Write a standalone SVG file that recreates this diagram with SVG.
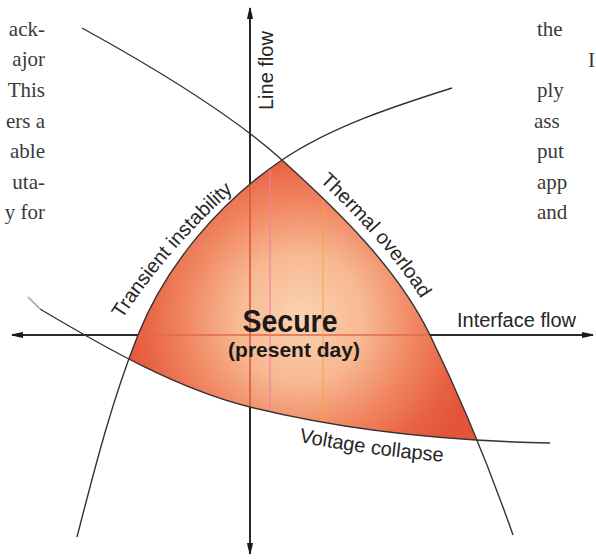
<svg xmlns="http://www.w3.org/2000/svg" width="596" height="559" viewBox="0 0 596 559">
<style>
.ax{fill:none;stroke:#2a2a2a;stroke-width:2}
.cv{fill:none;stroke:#333;stroke-width:1.4}
.lbl{font-family:"Liberation Sans",Arial,sans-serif;font-size:20px;fill:#262626}
.big{font-family:"Liberation Sans",Arial,sans-serif;font-weight:bold;fill:#1a1a1a}
.body{font-family:"Liberation Serif","Times New Roman",serif;font-size:21px;fill:#3a3a3a}
</style>
<defs>
<marker id="arr" viewBox="0 0 12 8" refX="11" refY="4" markerUnits="userSpaceOnUse" markerWidth="12" markerHeight="8" orient="auto-start-reverse">
<path d="M0,1 Q6,2 12,4 Q6,6 0,7 Z" fill="#1a1a1a"/>
</marker>
<radialGradient id="secGrad" gradientUnits="userSpaceOnUse" cx="300" cy="318" r="185">
<stop offset="0" stop-color="#fbd3b3"/>
<stop offset="0.35" stop-color="#f7b891"/>
<stop offset="0.62" stop-color="#f08762"/>
<stop offset="0.85" stop-color="#e86245"/>
<stop offset="1" stop-color="#e2553b"/>
</radialGradient>
<clipPath id="cT"><path d="M60,620 L77,537 C94.5,469 112,400 138,335 C165.8,265.4 219.7,202 282,160 C331.8,126.4 395,106 452,88 L620,40 L620,620 Z"/></clipPath>
<clipPath id="cTh"><path d="M82,28 C143.3,61.7 230.2,113.1 282,160 C337.5,210.3 397,267.5 430,335 C460.8,398 489.9,469.2 513,535 L540,620 L-20,620 L-20,-20 Z"/></clipPath>
<clipPath id="cV"><path d="M40,309 C104.5,347.3 177.3,389 250,407 C347,431 450,441 550,443 L620,444 L620,-20 L-20,-20 L-20,285 Z"/></clipPath>
<path id="tpTrans" d="M121,321 Q170,245 242,183"/>
<path id="tpTherm" d="M288.7,152.6 C344.2,202.9 406,263.1 439,330.6"/>
<path id="tpVolt" d="M250,431 C347,455 450,465 550,467"/>
</defs>

<g id="page-text" class="body">
<text x="45" y="36" text-anchor="end">ack-</text>
<text x="45" y="66" text-anchor="end">ajor</text>
<text x="45" y="97" text-anchor="end">This</text>
<text x="45" y="128" text-anchor="end">ers a</text>
<text x="45" y="158" text-anchor="end">able</text>
<text x="45" y="189" text-anchor="end">uta-</text>
<text x="45" y="219" text-anchor="end">y for</text>
<text x="537" y="36">the</text>
<text x="588" y="67">I</text>
<text x="537" y="97">ply</text>
<text x="534" y="128">ass</text>
<text x="537" y="158">put</text>
<text x="537" y="189">app</text>
<text x="537" y="219">and</text>
</g>

<g id="connectors">
<line id="axis-line-flow" class="ax" x1="250" y1="554" x2="250" y2="8" marker-start="url(#arr)" marker-end="url(#arr)"/>
<line id="axis-interface-flow" class="ax" x1="12" y1="335" x2="593" y2="335" marker-start="url(#arr)" marker-end="url(#arr)"/>
</g>

<g id="region">
<g clip-path="url(#cT)"><g clip-path="url(#cTh)"><g clip-path="url(#cV)">
<rect x="90" y="140" width="430" height="320" fill="url(#secGrad)"/>
<line x1="250" y1="150" x2="250" y2="420" stroke="#d8583f" stroke-width="1.6"/>
<line x1="100" y1="335" x2="500" y2="335" stroke="#e0684c" stroke-width="1.4"/>
<line x1="270" y1="150" x2="270" y2="420" stroke="#f07fa5" stroke-width="1.6" opacity="0.7"/>
<line x1="323" y1="190" x2="323" y2="430" stroke="#f5a23c" stroke-width="1.3" opacity="0.7"/>
</g></g></g>
</g>

<g id="curves">
<path id="curve-transient" class="cv" d="M77,537 C94.5,469 112,400 138,335 C165.8,265.4 219.7,202 282,160 C331.8,126.4 395,106 452,88"/>
<path id="curve-thermal" class="cv" d="M82,28 C143.3,61.7 230.2,113.1 282,160 C337.5,210.3 397,267.5 430,335 C460.8,398 489.9,469.2 513,535"/>
<path id="curve-voltage" class="cv" d="M40,309 C104.5,347.3 177.3,389 250,407 C347,431 450,441 550,443"/>
<path d="M28,297 L40,309" fill="none" stroke="#b5b5b5" stroke-width="2"/>
</g>

<g id="label-line-flow"><text class="lbl" transform="translate(273,110) rotate(-90)">Line flow</text></g>
<g id="label-interface-flow"><text class="lbl" x="457" y="327">Interface flow</text></g>
<g id="label-transient"><text class="lbl"><textPath href="#tpTrans" startOffset="2">Transient instability</textPath></text></g>
<g id="label-thermal"><text class="lbl"><textPath href="#tpTherm" startOffset="42">Thermal overload</textPath></text></g>
<g id="label-voltage"><text class="lbl"><textPath href="#tpVolt" startOffset="50">Voltage collapse</textPath></text></g>
<g id="label-secure">
<text class="big" x="290" y="332" font-size="31" text-anchor="middle" textLength="95" lengthAdjust="spacingAndGlyphs">Secure</text>
<text class="big" x="294" y="357" font-size="21" text-anchor="middle">(present day)</text>
</g>
</svg>
